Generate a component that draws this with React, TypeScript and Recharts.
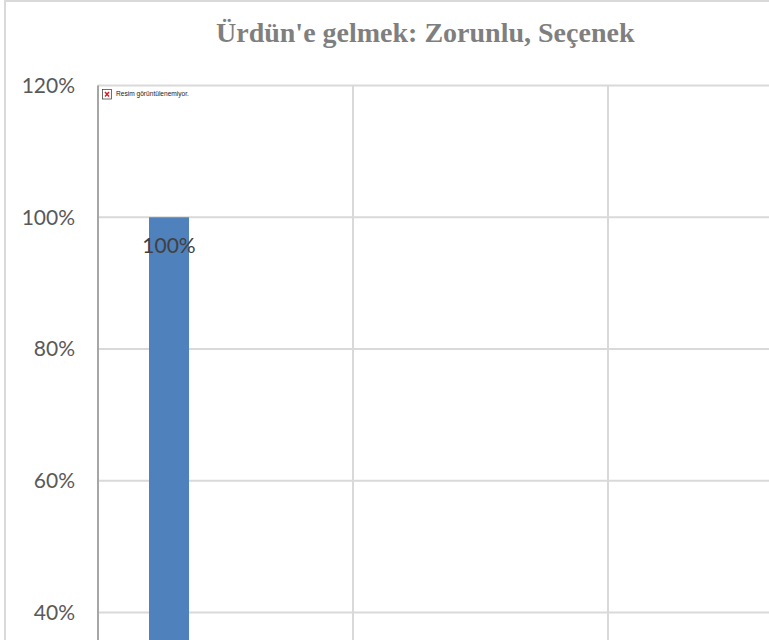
import { BarChart, Bar, CartesianGrid, XAxis, YAxis, LabelList } from "recharts";

const categories = ["1", "2", "3"];
// only the first bar reaches the visible part of the chart, the rest is cropped away
const seriesA = [1, null, null];
const seriesB = [null, null, null];
const seriesC = [null, null, null];
const seriesD = [null, null, null];
const yTicks = [0.4, 0.6, 0.8, 1, 1.2];

const data = categories.map((c, i) => ({ c, a: seriesA[i], b: seriesB[i], c2: seriesC[i], d: seriesD[i] }));
const pct = (v: number) => `${Math.round(v * 100)}%`;
const FONT = "Lato, 'Open Sans', sans-serif";

function Placeholder() {
  return (
    <g>
      <rect x={102.5} y={89.5} width={9} height={9.5} fill="#fff" stroke="#333" strokeWidth={0.7} />
      <path d="M105 92 L109 96.5 M109 92 L105 96.5" stroke="#e0141c" strokeWidth={1.4} />
      <text x={116} y={96} fontSize={6.6} fontFamily="'Liberation Sans', sans-serif" fill="#222">
        Resim görüntülenemiyor.
      </text>
    </g>
  );
}

export default function App() {
  return (
    <div style={{ position: "fixed", left: 0, top: 0, width: 769, height: 640, overflow: "hidden", background: "#fff" }}>
      <div style={{ position: "absolute", left: 4, top: 0, width: 1000, height: 1000, border: "2px solid #d9d9d9" }} />
      <div style={{ position: "absolute", left: 216, top: 17, fontFamily: "'Liberation Serif', serif", fontWeight: 700, fontSize: 28, color: "#7f7f7f", whiteSpace: "nowrap" }}>
        Ürdün'e gelmek: Zorunlu, Seçenek
      </div>
      <div style={{ position: "absolute", left: 0, top: 0 }}>
        <BarChart
          width={890}
          height={900}
          data={data}
          margin={{ top: 85.5, right: 27, bottom: 0, left: 0 }}
          barSize={40}
          barGap={-2.33}
        >
          <CartesianGrid
            stroke="#d9d9d9"
            strokeWidth={2}
            verticalCoordinatesGenerator={({ offset }: any) =>
              categories.map((_, i) => offset.left + (i * offset.width) / categories.length)
            }
          />
          <XAxis dataKey="c" tick={false} tickLine={false} axisLine={{ stroke: "#d9d9d9" }} height={24} />
          <YAxis
            width={98}
            domain={[0, 1.2]}
            ticks={yTicks}
            tickFormatter={pct}
            tickLine={false}
            tickSize={0}
            tickMargin={23}
            axisLine={{ stroke: "#a6a6a6", strokeWidth: 2 }}
            tick={{ fontSize: 21, fontFamily: FONT, fill: "#595959" }}
          />
          <Bar dataKey="a" fill="#4f81bd" isAnimationActive={false}>
            <LabelList dataKey="a" position="insideTop" offset={21} formatter={pct as any} fontSize={21} fontFamily={FONT} fill="#404040" />
          </Bar>
          <Bar dataKey="b" fill="#c0504d" isAnimationActive={false} />
          <Bar dataKey="c2" fill="#9bbb59" isAnimationActive={false} />
          <Bar dataKey="d" fill="#8064a2" isAnimationActive={false} />
          <Placeholder />
        </BarChart>
      </div>
    </div>
  );
}
